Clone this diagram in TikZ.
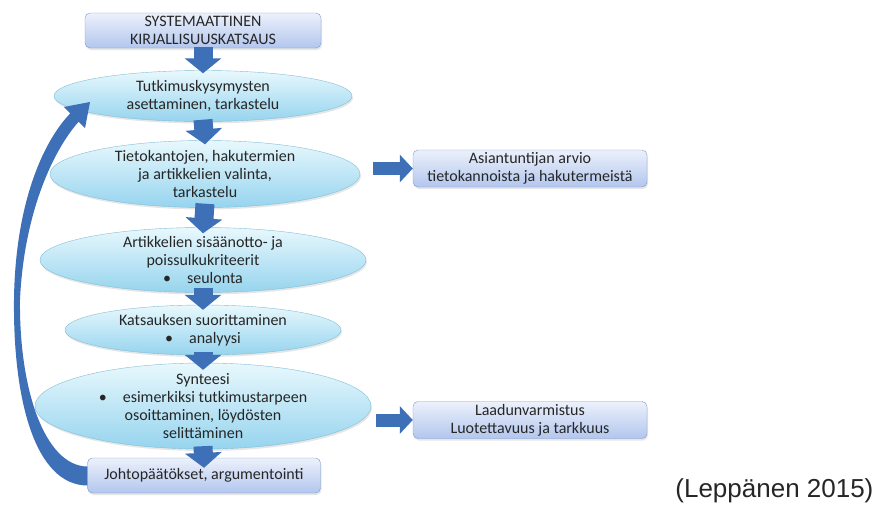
\documentclass[tikz,border=0pt]{standalone}
\usepackage{fontspec}
\setmainfont{Carlito}
\newfontfamily\citefont{Liberation Sans}
\usetikzlibrary{shapes.geometric, arrows.meta, shadows, positioning}
\definecolor{elltop}{RGB}{232,248,253}
\definecolor{ellbot}{RGB}{150,212,238}
\definecolor{ellline}{RGB}{130,190,215}
\definecolor{boxtop}{RGB}{236,241,251}
\definecolor{boxbot}{RGB}{178,198,238}
\definecolor{boxline}{RGB}{125,155,205}
\definecolor{flowblue}{RGB}{62,112,184}

\begin{document}
\begin{tikzpicture}[x = 1pt, y = -1pt,
    every node/.style = {align = center, font = \fontsize{16}{18}\selectfont, text = black!85},
    phase/.style = {shape = ellipse, draw = ellline, top color = elltop, bottom color = ellbot, inner sep = -8pt,
        drop shadow = {opacity = 0.2, shadow xshift = 1pt, shadow yshift = -2pt}},
    panel/.style = {shape = rectangle, rounded corners = 5pt, draw = boxline, top color = boxtop, bottom color = boxbot,
        minimum width = 234pt, minimum height = 37pt, inner sep = 2pt,
        drop shadow = {opacity = 0.2, shadow xshift = 1pt, shadow yshift = -2pt}},
    downarrow/.style = {draw = flowblue, line width = 19pt, -{Triangle[width = 36pt, length = 15pt]}},
    sidearrow/.style = {draw = flowblue, line width = 13pt, -{Triangle[width = 27pt, length = 13pt]}}]
    \useasboundingbox (0,0) rectangle (883,504);
    \node[panel, minimum width = 236pt, minimum height = 35pt] (start) at (203,30.5) {SYSTEMAATTINEN\\KIRJALLISUUSKATSAUS};
    \node[phase, minimum width = 298pt, minimum height = 51pt] (tutk) at (203,96) {Tutkimuskysymysten\\asettaminen, tarkastelu};
    \node[phase, minimum width = 310pt, minimum height = 67pt] (tieto) at (205,174) {Tietokantojen, hakutermien\\ja artikkelien valinta,\\tarkastelu};
    \node[phase, minimum width = 326pt, minimum height = 65pt] (kriteerit) at (203,260) {Artikkelien sisäänotto- ja\\poissulkukriteerit\\•\quad seulonta};
    \node[phase, minimum width = 276pt, minimum height = 50pt] (katsaus) at (203,330) {Katsauksen suorittaminen\\•\quad analyysi};
    \node[phase, minimum width = 336pt, minimum height = 86pt] (synteesi) at (203,406) {Synteesi\\•\quad esimerkiksi tutkimustarpeen\\osoittaminen, löydösten\\selittäminen};
    \node[panel, minimum width = 233pt, minimum height = 35pt] (johto) at (204,475.5) {Johtopäätökset, argumentointi};
    \node[panel] (arvio) at (530,168.5) {Asiantuntijan arvio\\tietokannoista ja hakutermeistä};
    \node[panel] (laatu) at (530,420) {Laadunvarmistus\\Luotettavuus ja tarkkuus};
    \node[font = \citefont\fontsize{26}{30}\selectfont, anchor = base east] (lahde) at (877,497) {(Leppänen 2015)};
    \coordinate (paluu) at (90,102);
    \draw[downarrow] ([yshift = 1pt]start.south) -- ([yshift = -3pt]tutk.north);
    \draw[downarrow] ([yshift = 2pt]tutk.south) -- ([yshift = -4pt]tieto.north);
    \draw[downarrow] ([yshift = 4pt]tieto.south) -- ([yshift = -6pt]kriteerit.north);
    \draw[downarrow] ([yshift = 5pt]kriteerit.south) -- ([yshift = -5pt]katsaus.north);
    \draw[downarrow] ([yshift = 3pt]katsaus.south) -- ([yshift = -7pt]synteesi.north);
    \draw[downarrow] ([yshift = 3pt]synteesi.south) -- ([yshift = -10pt]johto.north);
    \draw[sidearrow] ([xshift = 13pt]tieto.east |- arvio.west) -- (arvio.west);
    \draw[sidearrow] ([xshift = 5pt]synteesi.east |- laatu.west) -- (laatu.west);
    \fill[flowblue] ([yshift = -10pt]johto.west) .. controls (35,485) and (13,400) .. (14,300)
        .. controls (15,210) and (40,145) .. (70.2,113.4) -- (63.8,107) -- (paluu) -- (85,128.2) -- (78.6,121.8)
        .. controls (55,148) and (24,210) .. (20,300) .. controls (19,390) and (45,466) .. ([yshift = 9pt]johto.west) -- cycle;
\end{tikzpicture}
\end{document}
